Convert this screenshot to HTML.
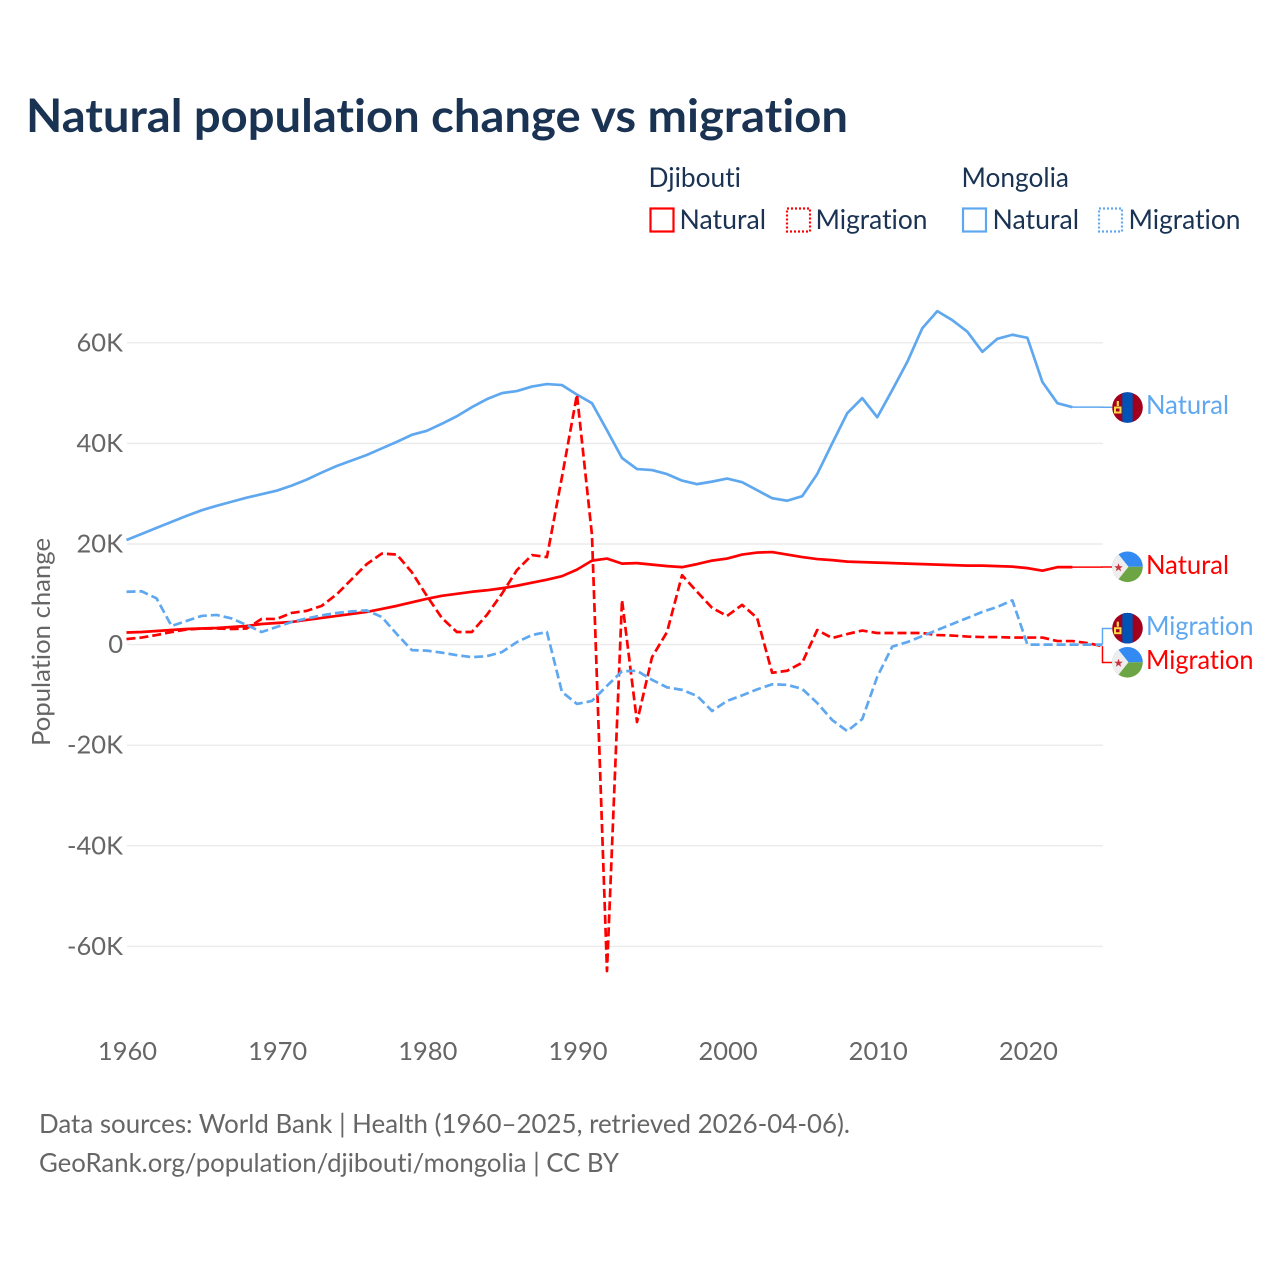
<!DOCTYPE html>
<html lang="en">
<head>
<meta charset="utf-8">
<title>Natural population change vs migration</title>
<style>
  html, body { margin: 0; padding: 0; background: #fff; width: 1280px; height: 1280px; overflow: hidden; }
  svg { display: block; font-family: "Lato", "Carlito", "Liberation Sans", sans-serif; font-variant-ligatures: none; }
  text { font-variant-ligatures: none; font-feature-settings: "liga" 0, "clig" 0; }
  .tick { font-size: 25.5px; fill: #666; }
  .leg { font-size: 27px; fill: #1a3353; }
  .foot { font-size: 26px; fill: #666; }
  .end { font-size: 26px; }
</style>
</head>
<body>
<svg id="chart" width="1280" height="1280" viewBox="0 0 1280 1280" xmlns="http://www.w3.org/2000/svg">
  <defs>
    <clipPath id="flag-clip"><circle cx="0" cy="0" r="15.3"></circle></clipPath>
    <g id="flag-mn">
      <g clip-path="url(#flag-clip)">
        <rect x="-16" y="-16" width="32" height="32" fill="#a2001d"></rect>
        <rect x="-5.2" y="-16" width="10.4" height="32" fill="#0052b4"></rect>
        <rect x="-13.5" y="-1" width="7.5" height="7" fill="#ffda44"></rect>
        <rect x="-11.5" y="1" width="3.5" height="3" fill="#a2001d"></rect>
        <rect x="-10.8" y="-6.5" width="2.2" height="5" fill="#ffda44"></rect>
      </g>
    </g>
    <g id="flag-dj">
      <g clip-path="url(#flag-clip)">
        <rect x="-16" y="-16" width="32" height="16" fill="#338af3"></rect>
        <rect x="-16" y="0" width="32" height="16" fill="#6da544"></rect>
        <polygon points="-16,-17 -11,-15 1,0 -11,15 -16,17" fill="#eeeeee"></polygon>
        <polygon points="-9,-3.6 -7.9,-0.5 -4.7,-0.5 -7.3,1.4 -6.3,4.5 -9,2.6 -11.7,4.5 -10.7,1.4 -13.3,-0.5 -10.1,-0.5" fill="#c8313e"></polygon>
      </g>
    </g>
  </defs>

  <text x="26" y="132" font-size="46" font-weight="700" fill="#1a3353" textLength="822" lengthAdjust="spacingAndGlyphs">Natural population change vs migration</text>

  <g id="legend">
    <text class="leg" x="648.5" y="187" textLength="92.5" lengthAdjust="spacingAndGlyphs">Djibouti</text>
    <text class="leg" x="961.5" y="187" textLength="107.5" lengthAdjust="spacingAndGlyphs">Mongolia</text>
    <rect x="650.5" y="208.5" width="23" height="23" fill="none" stroke="#ff0000" stroke-width="2.2"></rect>
    <text class="leg" x="679.5" y="229" textLength="86.5" lengthAdjust="spacingAndGlyphs">Natural</text>
    <rect x="787" y="208.5" width="23" height="23" fill="none" stroke="#ff0000" stroke-width="2.2" stroke-dasharray="2 2"></rect>
    <text class="leg" x="815.5" y="229" textLength="112" lengthAdjust="spacingAndGlyphs">Migration</text>
    <rect x="963" y="208.5" width="23" height="23" fill="none" stroke="#5fa8f0" stroke-width="2.2"></rect>
    <text class="leg" x="992.5" y="229" textLength="86.5" lengthAdjust="spacingAndGlyphs">Natural</text>
    <rect x="1099" y="208.5" width="23" height="23" fill="none" stroke="#5fa8f0" stroke-width="2.2" stroke-dasharray="2 2"></rect>
    <text class="leg" x="1128.5" y="229" textLength="112" lengthAdjust="spacingAndGlyphs">Migration</text>
  </g>

  <g id="grid"></g>
  <g id="yticks"></g>
  <g id="xticks"></g>
  <text transform="translate(50,642) rotate(-90)" text-anchor="middle" font-size="25.5" fill="#666" textLength="208" lengthAdjust="spacingAndGlyphs">Population change</text>
  <g id="connectors"></g>
  <g id="series"></g>

  <use href="#flag-mn" x="1127.5" y="407.5"></use>
  <text class="end" x="1146" y="414" fill="#5fa8f0" textLength="83" lengthAdjust="spacingAndGlyphs">Natural</text>
  <use href="#flag-dj" x="1127.5" y="566.8"></use>
  <text class="end" x="1146" y="574" fill="#ff0000" textLength="83" lengthAdjust="spacingAndGlyphs">Natural</text>
  <use href="#flag-mn" x="1127.5" y="628.2"></use>
  <text class="end" x="1146" y="635" fill="#5fa8f0" textLength="107.5" lengthAdjust="spacingAndGlyphs">Migration</text>
  <use href="#flag-dj" x="1127.5" y="662.3"></use>
  <text class="end" x="1146" y="669" fill="#ff0000" textLength="107.5" lengthAdjust="spacingAndGlyphs">Migration</text>

  <text class="foot" x="39" y="1133" textLength="811" lengthAdjust="spacingAndGlyphs">Data sources: World Bank | Health (1960–2025, retrieved 2026-04-06).</text>
  <text class="foot" x="39" y="1172" textLength="580" lengthAdjust="spacingAndGlyphs">GeoRank.org/population/djibouti/mongolia | CC BY</text>
</svg>
<script>
const startYear = 1960;
const yTickValues = [60, 40, 20, 0, -20, -40, -60];
const yTickLabels = ['60K', '40K', '20K', '0', '-20K', '-40K', '-60K'];
const xTickValues = [1960, 1970, 1980, 1990, 2000, 2010, 2020];
const xTickLabels = ['1960', '1970', '1980', '1990', '2000', '2010', '2020'];

const mongoliaNatural = [20.8,22,23.2,24.4,25.6,26.7,27.6,28.4,29.2,29.9,30.6,31.6,32.8,34.2,35.5,36.6,37.7,39,40.3,41.7,42.5,43.9,45.4,47.2,48.8,50,50.4,51.3,51.8,51.6,49.7,48,42.6,37.1,34.9,34.7,33.9,32.6,31.9,32.4,33,32.3,30.7,29.1,28.6,29.5,33.9,40,46,49,45.2,50.6,56.2,62.9,66.3,64.5,62.2,58.2,60.8,61.6,61,52.2,48,47.2];
const djiboutiNatural = [2.4,2.5,2.7,2.9,3.1,3.2,3.3,3.5,3.7,4.1,4.3,4.5,4.9,5.3,5.7,6.1,6.5,7.1,7.7,8.4,9.1,9.7,10.1,10.5,10.8,11.2,11.7,12.3,12.9,13.6,14.9,16.7,17.1,16.1,16.2,15.9,15.6,15.4,16,16.7,17.1,17.9,18.3,18.4,17.9,17.4,17,16.8,16.5,16.4,16.3,16.2,16.1,16,15.9,15.8,15.7,15.7,15.6,15.5,15.2,14.7,15.4,15.4];
const djiboutiMigration = [1.1,1.4,1.9,2.5,3,3.2,3.2,3.1,3.2,5.1,5.1,6.3,6.7,7.7,10,13,16,18.1,17.9,14.4,9.7,5.3,2.5,2.5,5.9,10.1,14.8,17.8,17.4,33.3,49.7,21.8,-64.9,8.9,-15.4,-2.5,2.5,13.8,10.5,7.3,5.7,7.9,5.3,-5.6,-5.2,-3.6,2.9,1.3,2.1,2.8,2.3,2.3,2.3,2.3,1.9,1.8,1.6,1.5,1.5,1.4,1.4,1.4,0.7,0.7,0.3,-0.3];
const mongoliaMigration = [10.5,10.6,9.2,3.7,4.7,5.7,5.9,5.2,3.9,2.5,3.5,4.5,5.2,5.8,6.3,6.6,6.8,5.5,2.1,-1.1,-1.2,-1.6,-2.1,-2.5,-2.3,-1.5,0.5,1.9,2.5,-9.4,-11.8,-11.2,-8.2,-5.3,-5.2,-7,-8.5,-9,-10.2,-13.2,-11.2,-10.1,-8.9,-7.9,-8,-8.8,-11.6,-15,-17.2,-14.8,-6.4,-0.4,0.5,1.7,2.9,4.1,5.3,6.5,7.5,8.8,0,0,0,0,0,0];

const SVG_NS = 'http://www.w3.org/2000/svg';
function xScale(year) { return 126.5 + (year - startYear) * 15.015; }
function yScale(value) { return 644.6 - value * 5.03; }
function make(tag) { return document.createElementNS(SVG_NS, tag); }

const gridGroup = document.getElementById('grid');
const yTickGroup = document.getElementById('yticks');
yTickValues.forEach(function (v, i) {
  const line = make('line');
  
  
  line.setAttribute('x1', 127);
  line.setAttribute('x2', 1103);
  line.setAttribute('y1', yScale(v));
  line.setAttribute('y2', yScale(v));
  line.setAttribute('stroke', '#ececec');
  line.setAttribute('stroke-width', 1.5);
  gridGroup.appendChild(line);
  const label = make('text');
  
  
  label.setAttribute('class', 'tick');
  label.setAttribute('x', 123);
  label.setAttribute('y', yScale(v) + 8.5);
  label.setAttribute('text-anchor', 'end');
  label.textContent = yTickLabels[i];
  yTickGroup.appendChild(label);
});

const xTickGroup = document.getElementById('xticks');
xTickValues.forEach(function (year, i) {
  const label = make('text');
  
  
  label.setAttribute('class', 'tick');
  label.setAttribute('x', xScale(year) + 1);
  label.setAttribute('y', 1060);
  label.setAttribute('text-anchor', 'middle');
  label.textContent = xTickLabels[i];
  xTickGroup.appendChild(label);
});

function drawSeries(values, color, dashed, name) {
  const path = make('polyline');
  
  
  path.setAttribute('points', values.map(function (v, i) {
    return xScale(startYear + i).toFixed(2) + ',' + yScale(v).toFixed(2);
  }).join(' '));
  path.setAttribute('fill', 'none');
  path.setAttribute('stroke', color);
  path.setAttribute('stroke-width', 2.7);
  path.setAttribute('stroke-linejoin', 'round');
  if (dashed) path.setAttribute('stroke-dasharray', '9 4');
  document.getElementById('series').appendChild(path);
}
drawSeries(mongoliaNatural, '#5fa8f0', false, 'line-mongolia-natural');
drawSeries(djiboutiNatural, '#ff0000', false, 'line-djibouti-natural');
drawSeries(djiboutiMigration, '#ff0000', true, 'line-djibouti-migration');
drawSeries(mongoliaMigration, '#5fa8f0', true, 'line-mongolia-migration');

function drawConnector(values, targetY, color, name) {
  const x0 = xScale(startYear + values.length - 1);
  const y0 = yScale(values[values.length - 1]);
  const elbow = Math.max(x0, 1102);
  const path = make('polyline');
  
  
  path.setAttribute('points', x0 + ',' + y0 + ' ' + elbow + ',' + y0 + ' ' + elbow + ',' + targetY + ' 1112,' + targetY);
  path.setAttribute('fill', 'none');
  path.setAttribute('stroke', color);
  path.setAttribute('stroke-width', 1.5);
  document.getElementById('connectors').appendChild(path);
}
drawConnector(mongoliaNatural, 407.2, '#5fa8f0', 'connector-mongolia-natural');
drawConnector(djiboutiNatural, 567, '#ff0000', 'connector-djibouti-natural');
drawConnector(mongoliaMigration, 628.5, '#5fa8f0', 'connector-mongolia-migration');
drawConnector(djiboutiMigration, 662.5, '#ff0000', 'connector-djibouti-migration');
</script>
</body>
</html>
